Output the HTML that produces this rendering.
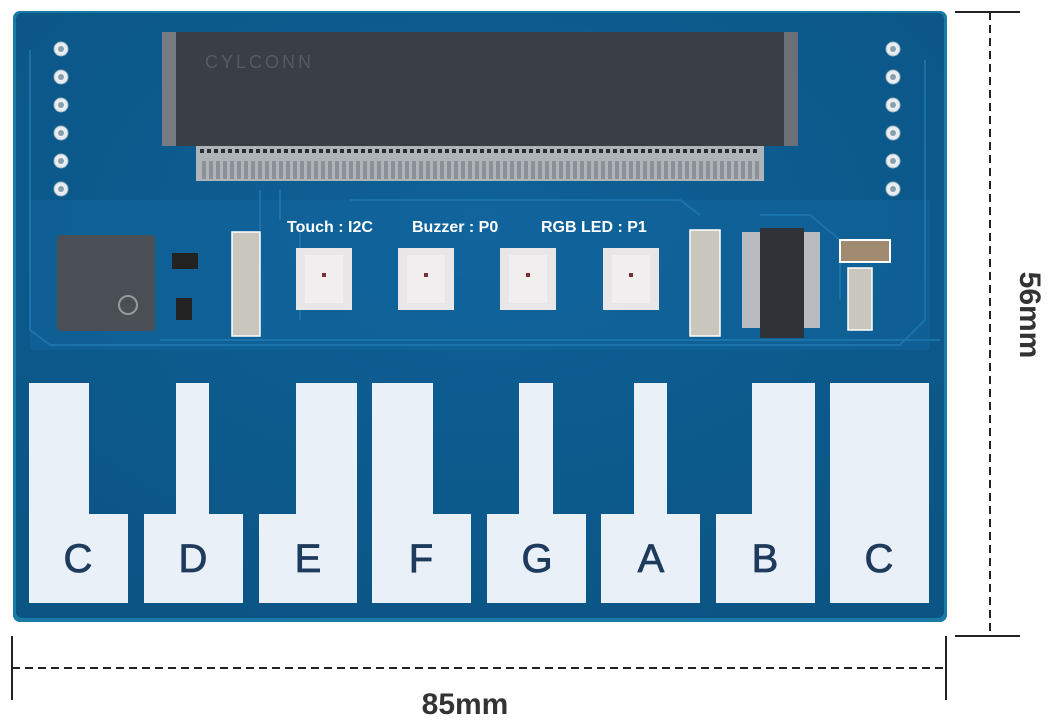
<!DOCTYPE html>
<html><head><style>
body{margin:0;background:#fff;width:1052px;height:724px;overflow:hidden}
svg{display:block}
</style></head><body>
<svg width="1052" height="724" viewBox="0 0 1052 724" xmlns="http://www.w3.org/2000/svg">
<defs>
<radialGradient id="bg" cx="0.5" cy="0.35" r="0.7">
<stop offset="0" stop-color="#0f6198"/><stop offset="1" stop-color="#0b5585"/>
</radialGradient>
</defs>
<rect x="13" y="11" width="934" height="611" rx="7" fill="#1a7aa6"/>
<rect x="16" y="13" width="928" height="605" rx="6" fill="url(#bg)"/>
<rect x="30" y="200" width="900" height="150" fill="#136aa2" opacity="0.4"/>
<g stroke="#1f78b0" stroke-width="2" fill="none" opacity="0.8">
<path d="M30 50 V330 L50 345 H900 L925 320 V60"/>
<path d="M260 190 V230 M280 190 V220 M350 200 H680 L700 215 M760 215 H810 L840 240 V300"/>
<path d="M160 340 H940 M300 230 V320"/>
</g>
<g fill="#e8eef2" stroke="#9fb4c2" stroke-width="1">
<circle cx="61" cy="49" r="7"/><circle cx="61" cy="77" r="7"/><circle cx="61" cy="105" r="7"/><circle cx="61" cy="133" r="7"/><circle cx="61" cy="161" r="7"/><circle cx="61" cy="189" r="7"/>
<circle cx="893" cy="49" r="7"/><circle cx="893" cy="77" r="7"/><circle cx="893" cy="105" r="7"/><circle cx="893" cy="133" r="7"/><circle cx="893" cy="161" r="7"/><circle cx="893" cy="189" r="7"/>
</g>
<g fill="#8aa0ac"><circle cx="61" cy="49" r="3"/><circle cx="61" cy="77" r="3"/><circle cx="61" cy="105" r="3"/><circle cx="61" cy="133" r="3"/><circle cx="61" cy="161" r="3"/><circle cx="61" cy="189" r="3"/>
<circle cx="893" cy="49" r="3"/><circle cx="893" cy="77" r="3"/><circle cx="893" cy="105" r="3"/><circle cx="893" cy="133" r="3"/><circle cx="893" cy="161" r="3"/><circle cx="893" cy="189" r="3"/></g>
<rect x="196" y="145" width="568" height="36" fill="#aeb4b8"/>
<g stroke="#2a2e33" stroke-width="4"><path d="M200 151 H760" stroke-dasharray="4 3"/></g>
<g stroke="#8b9196"><path d="M202 170 H760" stroke-dasharray="4 3" stroke-width="18"/></g>
<rect x="162" y="32" width="636" height="114" fill="#3a3e45"/>
<rect x="162" y="32" width="14" height="114" fill="#777c82"/>
<rect x="784" y="32" width="14" height="114" fill="#6b7076"/>
<text x="205" y="68" font-family="Liberation Sans, sans-serif" font-size="18" fill="#565b62" letter-spacing="3">CYLCONN</text>
<g font-family="Liberation Sans, sans-serif" font-weight="bold" font-size="16" fill="#fff">
<text x="287" y="232">Touch : I2C</text><text x="412" y="232">Buzzer : P0</text><text x="541" y="232">RGB LED : P1</text>
</g>
<rect x="57" y="235" width="98" height="96" rx="4" fill="#4a4e55"/>
<circle cx="128" cy="305" r="9" fill="none" stroke="#999" stroke-width="2"/>
<rect x="172" y="253" width="26" height="16" fill="#222"/>
<rect x="176" y="298" width="16" height="22" fill="#222"/>
<g stroke="#fff" stroke-width="1.5">
<rect x="232" y="232" width="28" height="104" fill="#c9c6be"/>
<rect x="690" y="230" width="30" height="106" fill="#c9c6be"/>
<rect x="848" y="268" width="24" height="62" fill="#c9c6be"/>
</g>
<rect x="840" y="240" width="50" height="22" fill="#a08a70" stroke="#fff" stroke-width="2"/>
<rect x="742" y="232" width="78" height="96" fill="#b8bcc0"/>
<rect x="760" y="228" width="44" height="110" fill="#2f3338"/>
<g>
<rect x="296" y="248" width="56" height="62" fill="#e8e6e6"/><rect x="305" y="255" width="38" height="48" fill="#f0eeee"/>
<rect x="398" y="248" width="56" height="62" fill="#e8e6e6"/><rect x="407" y="255" width="38" height="48" fill="#f0eeee"/>
<rect x="500" y="248" width="56" height="62" fill="#e8e6e6"/><rect x="509" y="255" width="38" height="48" fill="#f0eeee"/>
<rect x="603" y="248" width="56" height="62" fill="#e8e6e6"/><rect x="612" y="255" width="38" height="48" fill="#f0eeee"/>
</g>
<g fill="#7a3030"><rect x="322" y="273" width="4" height="4"/><rect x="424" y="273" width="4" height="4"/><rect x="526" y="273" width="4" height="4"/><rect x="629" y="273" width="4" height="4"/></g>
<g fill="#e9f0f8">
<path d="M29 383 H89 V514 H128 V603 H29 Z"/>
<path d="M176 383 H209 V514 H243 V603 H144 V514 H176 Z"/>
<path d="M296 383 H357 V603 H259 V514 H296 Z"/>
<path d="M372 383 H433 V514 H471 V603 H372 Z"/>
<path d="M519 383 H553 V514 H586 V603 H487 V514 H519 Z"/>
<path d="M634 383 H667 V514 H700 V603 H601 V514 H634 Z"/>
<path d="M752 383 H815 V603 H716 V514 H752 Z"/>
<path d="M830 383 H929 V603 H830 Z"/>
</g>
<g font-family="Liberation Sans, sans-serif" font-size="40" fill="#1e3a5c" text-anchor="middle" stroke="#1e3a5c" stroke-width="0.8">
<text x="78" y="572">C</text><text x="193" y="572">D</text><text x="308" y="572">E</text><text x="421" y="572">F</text>
<text x="537" y="572">G</text><text x="651" y="572">A</text><text x="765" y="572">B</text><text x="879" y="572">C</text>
</g>
<g stroke="#222" stroke-width="2" fill="none">
<path d="M12 636 V700 M946 636 V700"/>
<path d="M12 668 H946" stroke-dasharray="8 5"/>
<path d="M955 12 H1020 M955 636 H1020"/>
<path d="M990 12 V636" stroke-dasharray="8 5"/>
</g>
<text x="465" y="714" text-anchor="middle" font-family="Liberation Sans, sans-serif" font-weight="bold" font-size="30" fill="#333">85mm</text>
<text transform="translate(1020,315) rotate(90)" text-anchor="middle" font-family="Liberation Sans, sans-serif" font-weight="bold" font-size="30" fill="#333">56mm</text>
</svg>
</body></html>
